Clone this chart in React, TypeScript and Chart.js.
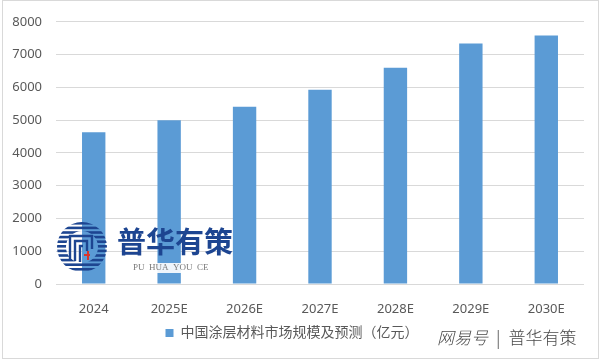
import React, { useEffect, useRef } from "react";
import { Chart, registerables } from "chart.js";

Chart.register(...registerables);

const categories = ["2024", "2025E", "2026E", "2027E", "2028E", "2029E", "2030E"];
const marketSize = [4630, 5000, 5410, 5930, 6600, 7340, 7580];
const seriesLabel = "中国涂层材料市场规模及预测（亿元）";
const yTicks = [0, 1000, 2000, 3000, 4000, 5000, 6000, 7000, 8000];

const FONT = "'Noto Sans', 'Noto Sans CJK SC', sans-serif";
const NAVY = "#1d4591";

const logoPlugin = {
  id: "logo",
  afterDatasetsDraw(chart: any) {
    const ctx = chart.ctx as CanvasRenderingContext2D;
    ctx.save();
    const cx = 82, cy = 247, R = 25, r = 16;
    ctx.save();
    ctx.beginPath();
    ctx.arc(cx, cy, R, 0, Math.PI * 2);
    ctx.arc(cx, cy, r, 0, Math.PI * 2, true);
    ctx.clip();
    ctx.fillStyle = NAVY;
    for (let y = cy - R; y < cy + R; y += 4.6) {
      ctx.fillRect(cx - R, y, 2 * R, 2.6);
    }
    ctx.restore();
    ctx.strokeStyle = NAVY;
    ctx.lineWidth = 2.4;
    ctx.beginPath();
    ctx.moveTo(cx - 12, cy + 12);
    ctx.lineTo(cx - 12, cy - 11);
    ctx.lineTo(cx + 10, cy - 11);
    ctx.lineTo(cx + 10, cy + 2);
    ctx.moveTo(cx - 7, cy + 14);
    ctx.lineTo(cx - 7, cy - 6);
    ctx.lineTo(cx + 5, cy - 6);
    ctx.lineTo(cx + 5, cy + 4);
    ctx.moveTo(cx - 2, cy + 15);
    ctx.lineTo(cx - 2, cy - 1);
    ctx.lineTo(cx + 1, cy - 1);
    ctx.stroke();
    ctx.fillStyle = "#d9342b";
    ctx.fillRect(cx + 2, cy + 7, 6, 2);
    ctx.fillRect(cx + 5, cy + 4, 2, 9);
    ctx.fillStyle = NAVY;
    ctx.font = `bold 29px 'Noto Sans CJK SC', sans-serif`;
    ctx.textBaseline = "middle";
    ctx.textAlign = "left";
    ctx.fillText("普华有策", 117, 242);
    ctx.fillStyle = "rgba(255,255,255,0.9)";
    ctx.fillRect(130, 263, 80, 10);
    ctx.fillStyle = "#7a7a7a";
    ctx.font = `9px 'Liberation Serif', serif`;
    ctx.fillText("PU  HUA  YOU  CE", 133, 268);
    ctx.restore();
  },
};

export default function App() {
  const ref = useRef<HTMLCanvasElement>(null);
  useEffect(() => {
    document.body.style.margin = "0";
    const chart = new Chart(ref.current!, {
      type: "bar",
      data: {
        labels: categories,
        datasets: [
          {
            label: seriesLabel,
            data: marketSize,
            backgroundColor: "#5b9bd5",
            categoryPercentage: 1,
            barPercentage: 0.31,
          },
        ],
      },
      options: {
        animation: false,
        responsive: false,
        maintainAspectRatio: false,
        layout: { padding: { top: 18, right: 17, left: 0, bottom: 11 } },
        plugins: {
          tooltip: { enabled: false },
          legend: {
            position: "bottom",
            align: "center",
            labels: {
              boxWidth: 8,
              boxHeight: 8,
              color: "#595959",
              padding: 10,
              font: { family: FONT, size: 14 },
            },
          },
        },
        scales: {
          x: {
            grid: { display: false },
            border: { display: false },
            ticks: { color: "#595959", padding: 9, font: { family: FONT, size: 13 } },
            afterFit: (s: any) => {
              s.height = 32;
            },
          },
          y: {
            min: 0,
            max: 8000,
            afterBuildTicks: (s: any) => {
              s.ticks = yTicks.map((v) => ({ value: v }));
            },
            grid: { color: "#d9d9d9", drawTicks: false },
            border: { display: false },
            ticks: {
              color: "#595959",
              padding: 14,
              font: { family: FONT, size: 13 },
              callback: (v: any) => String(v),
            },
            afterFit: (s: any) => {
              s.width = 56;
            },
          },
        },
      },
      plugins: [logoPlugin],
    });
    return () => chart.destroy();
  }, []);
  return (
    <div style={{ position: "relative", width: 601, height: 361, background: "#fff", overflow: "hidden" }}>
      <canvas ref={ref} width={601} height={361} style={{ display: "block" }} />
      <div
        style={{
          position: "absolute",
          left: 2,
          top: 0,
          width: 595,
          height: 357,
          border: "1px solid #d9d9d9",
          pointerEvents: "none",
        }}
      />
      <div
        style={{
          position: "absolute",
          left: 437,
          top: 326,
          fontFamily: "'Noto Sans CJK SC', sans-serif",
          fontSize: 17,
          color: "#4a4a4a",
          whiteSpace: "nowrap",
          lineHeight: "22px",
          background: "rgba(255,255,255,0.6)",
        }}
      >
        <span style={{ fontStyle: "italic", fontWeight: 300 }}>网易号</span>
        <span style={{ margin: "0 8px", color: "#777" }}>|</span>
        <span style={{ fontWeight: 300 }}>普华有策</span>
      </div>
    </div>
  );
}
